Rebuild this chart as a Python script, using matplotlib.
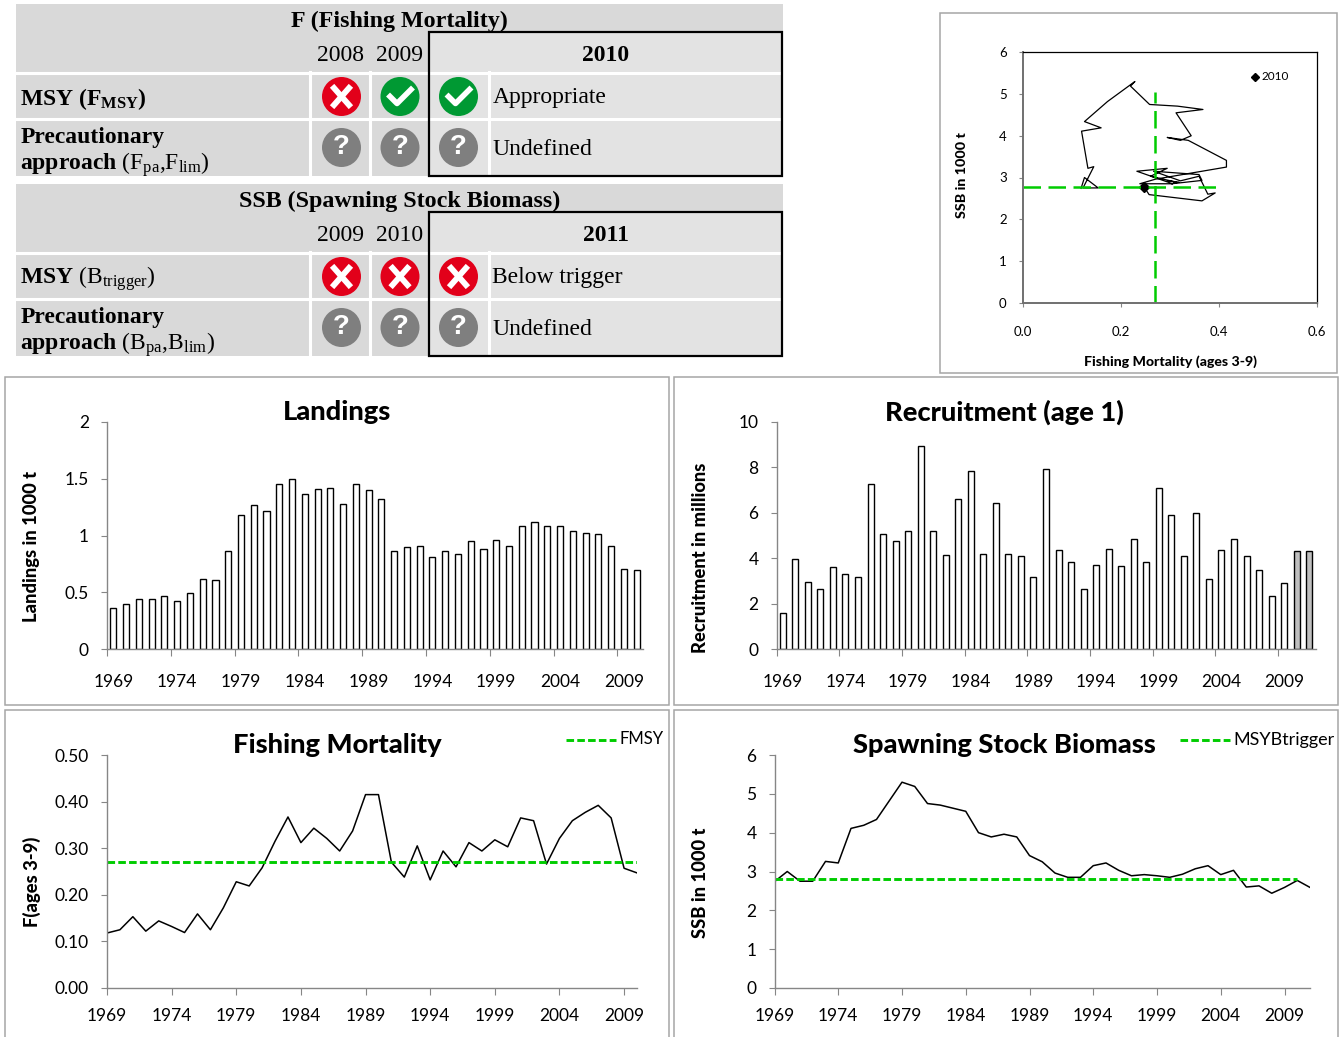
import numpy as np
import matplotlib
matplotlib.use("Agg")
import matplotlib.pyplot as plt
from matplotlib.patches import Rectangle, Circle

W, H = 1344, 1037

years_land = list(range(1969, 2011))
landings = [0.36, 0.40, 0.44, 0.44, 0.465, 0.425, 0.49, 0.615, 0.605, 0.86, 1.18, 1.27, 1.22, 1.45,
            1.50, 1.37, 1.41, 1.42, 1.28, 1.45, 1.40, 1.32, 0.86, 0.90, 0.91, 0.81, 0.86, 0.835,
            0.95, 0.885, 0.96, 0.91, 1.08, 1.115, 1.08, 1.08, 1.04, 1.025, 1.01, 0.91, 0.705, 0.695]
years_rec = list(range(1969, 2012))
recruitment = [1.6, 3.95, 2.95, 2.65, 3.6, 3.3, 3.15, 7.25, 5.05, 4.75, 5.2, 8.95, 5.2, 4.15, 6.6,
               7.85, 4.2, 6.45, 4.2, 4.1, 3.15, 7.95, 4.35, 3.85, 2.65, 3.7, 4.4, 3.65, 4.85, 3.85,
               7.1, 5.9, 4.1, 6.0, 3.1, 4.35, 4.85, 4.1, 3.5, 2.35, 2.9, 4.3, 4.3]
rec_estimated = 2  # last bars are grey
years_f = list(range(1969, 2011))
fishing = [0.118, 0.125, 0.153, 0.122, 0.144, 0.132, 0.119, 0.159, 0.125, 0.172, 0.228, 0.219, 0.258,
           0.315, 0.367, 0.312, 0.343, 0.321, 0.294, 0.337, 0.415, 0.415, 0.27, 0.238, 0.305, 0.232,
           0.294, 0.26, 0.312, 0.294, 0.318, 0.303, 0.365, 0.359, 0.266, 0.321, 0.359, 0.377, 0.392,
           0.365, 0.257, 0.247]
years_ssb = list(range(1969, 2012))
ssb = [2.74, 3.0, 2.75, 2.75, 3.26, 3.22, 4.11, 4.19, 4.34, 4.82, 5.3, 5.19, 4.75, 4.71, 4.63, 4.55,
       4.0, 3.89, 3.96, 3.89, 3.41, 3.25, 2.96, 2.85, 2.85, 3.15, 3.22, 3.03, 2.89, 2.92, 2.89, 2.85,
       2.93, 3.07, 3.15, 2.92, 3.03, 2.6, 2.63, 2.44, 2.59, 2.77, 2.59]
fmsy = 0.27
btrigger = 2.8

t1_title = "F (Fishing Mortality)"
t1_years = ["2008", "2009", "2010"]
t1_rows = [("bad", "good", "good", "Appropriate"), ("unk", "unk", "unk", "Undefined")]
t2_title = "SSB (Spawning Stock Biomass)"
t2_years = ["2009", "2010", "2011"]
t2_rows = [("bad", "bad", "bad", "Below trigger"), ("unk", "unk", "unk", "Undefined")]

GREEN = "#00CC00"
AXC = "#868686"
SANS = ["Lato", "DejaVu Sans"]
SERIF = "Liberation Serif"
HEAVY = 900

plt.rcParams["font.family"] = SANS
plt.rcParams["mathtext.fontset"] = "custom"
plt.rcParams["mathtext.rm"] = SERIF
plt.rcParams["mathtext.bf"] = SERIF + ":bold"
plt.rcParams["mathtext.it"] = SERIF + ":italic"
plt.rcParams["mathtext.default"] = "rm"

fig = plt.figure(figsize=(W / 100, H / 100), dpi=100)

# page layer in pixel coordinates
page = fig.add_axes([0, 0, 1, 1], zorder=0)
page.set_xlim(0, W)
page.set_ylim(H, 0)
page.axis("off")


def px_axes(l, t, r, b):
    ax = fig.add_axes([l / W, 1 - b / H, (r - l) / W, (b - t) / H], zorder=2)
    ax.patch.set_alpha(0)
    return ax


def box(x0, y0, x1, y1, **kw):
    page.add_patch(Rectangle((x0, y0), x1 - x0, y1 - y0, **kw))


def icon(x, y, kind):
    col = {"bad": "#E2001A", "good": "#009933", "unk": "#7F7F7F"}[kind]
    page.add_patch(Circle((x, y), 19.5, color=col, lw=0, zorder=5))
    if kind == "bad":
        page.plot([x - 7.5, x + 7.5], [y - 8.5, y + 8.5], color="w", lw=4.2, zorder=6)
        page.plot([x - 7.5, x + 7.5], [y + 8.5, y - 8.5], color="w", lw=4.2, zorder=6)
    elif kind == "good":
        page.plot([x - 10, x - 3, x + 11], [y, y + 7, y - 7], color="w", lw=4, zorder=6)
    else:
        page.text(x, y, "?", color="w", ha="center", va="center", fontsize=20,
                  fontweight="bold", family="Liberation Sans", zorder=6)


def table(top, title, years, rows, label1, label2):
    y1, y2, y3, bottom = top + 28, top + 68, top + 114, top + 172
    box(16, top, 783, bottom, fc="#D9D9D9", lw=0)
    box(429, y1, 783, bottom, fc="#E3E3E3", lw=0)
    for y in (y2, y3):
        page.plot([16, 783], [y + 1, y + 1], color="w", lw=2.2, zorder=2)
    for x in (310, 370, 489):
        page.plot([x, x], [y2, bottom], color="w", lw=2.2, zorder=2)
    box(429, y1, 782, bottom, fc="none", ec="k", lw=1.6, zorder=3)
    page.text(399.5, top + 17, title, family=SERIF, fontweight="bold", fontsize=17.3,
              ha="center", va="center", zorder=4)
    page.text(341, top + 51.5, years[0], family=SERIF, fontsize=17, ha="center", va="center")
    page.text(399.5, top + 51.5, years[1], family=SERIF, fontsize=17, ha="center", va="center")
    page.text(606, top + 51.5, years[2], family=SERIF, fontweight="bold", fontsize=17,
              ha="center", va="center")
    page.text(20, top + 95, label1, family=SERIF, fontsize=17, va="center", zorder=4)
    page.text(21, top + 133, "Precautionary", family=SERIF, fontweight="bold", fontsize=17,
              va="center", zorder=4)
    page.text(20, top + 160.5, label2, family=SERIF, fontsize=17, va="center", zorder=4)
    for row, yc, ty in zip(rows, (top + 92.5, top + 143.5), (top + 94, top + 145.5)):
        for x, kind in zip((341.5, 400, 458.5), row[:3]):
            icon(x, yc, kind)
        page.text(492.5, ty, row[3], family=SERIF, fontsize=17, va="center", zorder=4)


table(4, t1_title, t1_years, t1_rows,
      r"$\mathbf{MSY\ (F_{MSY})}$",
      r"$\mathbf{approach}$ (F$_{\mathrm{pa}}$,F$_{\mathrm{lim}}$)")
table(184, t2_title, t2_years, t2_rows,
      r"$\mathbf{MSY}$ (B$_{\mathrm{trigger}}$)",
      r"$\mathbf{approach}$ (B$_{\mathrm{pa}}$,B$_{\mathrm{lim}}$)")

# panel frames
for x0, y0, x1, y1 in [(5, 377, 669, 705), (674, 377, 1338, 705),
                       (5, 710, 669, 1045), (674, 710, 1338, 1045), (940, 13, 1337, 373)]:
    box(x0, y0, x1, y1, fc="w", ec="#A6A6A6", lw=1.1, zorder=1)


def style(ax, label, lab_x, lab_y):
    for s in ("top", "right"):
        ax.spines[s].set_visible(False)
    for s in ("left", "bottom"):
        ax.spines[s].set_color(AXC)
        ax.spines[s].set_linewidth(1)
    ax.tick_params(axis="y", length=4, width=0.8, color=AXC, pad=9, labelsize=12.5)
    page.text(lab_x, lab_y, label, rotation=90, ha="center", va="center", fontsize=13.2,
              fontweight=HEAVY, zorder=3)


def bar_panel(rect, years, values, ylim, yticks, ylabels, label, lab_xy, title, title_x, n_grey=0):
    ax = px_axes(*rect)
    cols = ["w"] * (len(values) - n_grey) + ["#BFBFBF"] * n_grey
    ax.bar(range(len(values)), values, width=0.48, color=cols, edgecolor="k", linewidth=1)
    ax.set_xlim(-0.5, len(values) - 0.5)
    ax.set_ylim(*ylim)
    ax.set_yticks(yticks, ylabels)
    ax.set_xticks(np.arange(-0.5, len(values), 5), [""] * len(np.arange(-0.5, len(values), 5)))
    ax.set_xticks(np.arange(0, len(values), 5), [str(y) for y in years[::5]], minor=True)
    ax.tick_params(axis="x", which="major", length=5, width=0.8, color=AXC)
    ax.tick_params(axis="x", which="minor", length=0, pad=18, labelsize=12.5)
    style(ax, label, *lab_xy)
    page.text(title_x, 412, title, ha="center", va="center", fontsize=19.6, fontweight=HEAVY, zorder=3)
    return ax


def line_panel(rect, years, values, ref, ref_years, ylim, yticks, ylabels, label, lab_xy,
               title, title_x, leg, leg_x, leg_size):
    ax = px_axes(*rect)
    ax.plot(years, values, color="k", lw=1.1)
    ax.plot(ref_years, [ref] * len(ref_years), color=GREEN, lw=2.1, dashes=(2.6, 1.1))
    ax.set_xlim(years[0], years[-1])
    ax.set_ylim(*ylim)
    ax.set_yticks(yticks, ylabels)
    ax.set_xticks(years[::5], [str(y) for y in years[::5]])
    ax.tick_params(axis="x", length=5, width=0.8, color=AXC, pad=9.5, labelsize=12.5)
    style(ax, label, *lab_xy)
    page.text(title_x, 745, title, ha="center", va="center", fontsize=19.6, fontweight=HEAVY, zorder=3)
    page.plot(leg_x, [740, 740], color=GREEN, lw=2.1, dashes=(2.6, 1.1), zorder=3)
    page.text(leg_x[1] + 3.5, 739.5, leg, va="center", fontsize=leg_size, zorder=3)
    return ax


bar_panel((107, 422, 643, 649), years_land, landings, (0, 2), [0, 0.5, 1, 1.5, 2],
          ["0", "0.5", "1", "1.5", "2"], "Landings in 1000 t", (32, 547), "Landings", 337)
bar_panel((776.5, 422, 1315.5, 649), years_rec, recruitment, (0, 10), [0, 2, 4, 6, 8, 10],
          ["0", "2", "4", "6", "8", "10"], "Recruitment in millions", (701, 558),
          "Recruitment (age 1)", 1004, rec_estimated)
line_panel((107, 755, 637, 988), years_f, fishing, fmsy, years_f, (0, 0.5), [0, 0.1, 0.2, 0.3, 0.4, 0.5],
           ["0.00", "0.10", "0.20", "0.30", "0.40", "0.50"], "F(ages 3-9)", (32, 882),
           "Fishing Mortality", 337, "FMSY", [566, 616], 12)
line_panel((774.5, 755, 1310, 988), years_ssb, ssb, btrigger, years_ssb[:-1], (0, 6), [0, 1, 2, 3, 4, 5, 6],
           ["0", "1", "2", "3", "4", "5", "6"], "SSB in 1000 t", (701, 883),
           "Spawning Stock Biomass", 1004, "MSYBtrigger", [1180, 1230], 13)

# stock trajectory, top right
ax = px_axes(1023.3, 52.3, 1317, 302.7)
ax.plot(fishing, ssb[:len(fishing)], color="k", lw=0.9)
ax.plot([fishing[-1]], [ssb[len(fishing) - 1]], color="k", marker="D", ms=5)
ax.plot([fmsy, fmsy], [0, 5.05], color=GREEN, lw=1.8, dashes=(7, 3))
ax.plot([0, 0.4], [btrigger - 0.02, btrigger - 0.02], color=GREEN, lw=1.8, dashes=(7, 3))
ax.set_xlim(0, 0.6)
ax.set_ylim(0, 6)
ax.set_xticks([0, 0.2, 0.4, 0.6], ["0.0", "0.2", "0.4", "0.6"])
ax.set_yticks([0, 1, 2, 3, 4, 5, 6])
ax.tick_params(length=3, width=0.8, color=AXC, labelsize=9.5)
ax.tick_params(axis="x", pad=13.5)
ax.tick_params(axis="y", pad=9)
for s in ("top", "right"):
    ax.spines[s].set_color("k")
    ax.spines[s].set_linewidth(0.9)
for s in ("left", "bottom"):
    ax.spines[s].set_color("#707070")
    ax.spines[s].set_linewidth(1.4)
page.plot([1255], [77], marker="D", color="k", ms=3.6, zorder=3)
page.text(1261, 77, "2010", va="center", fontsize=8.5, zorder=3)
page.text(961.5, 175, "SSB in 1000 t", rotation=90, ha="center", va="center", fontsize=10.3,
          fontweight=HEAVY, zorder=3)
page.text(1170, 361.5, "Fishing Mortality (ages 3-9)", ha="center", va="center", fontsize=10.2,
          fontweight=HEAVY, zorder=3)

fig.savefig("out.png", dpi=100)
